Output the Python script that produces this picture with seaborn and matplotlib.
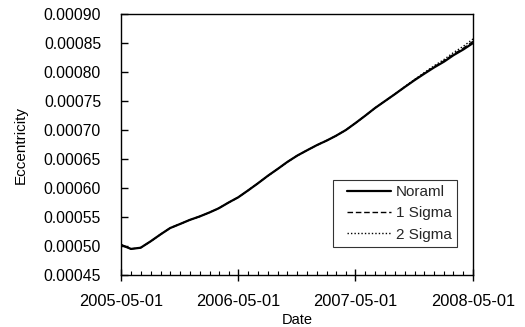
import matplotlib
matplotlib.use("Agg")
import matplotlib.pyplot as plt
import matplotlib.dates as mdates
from matplotlib.legend_handler import HandlerLine2D
import seaborn as sns
import pandas as pd

# Monthly orbit eccentricity, 2005-05 .. 2008-05
months = pd.date_range("2005-05-01", "2008-05-01", freq="MS")
normal = [0.000502, 0.000495, 0.000497, 0.000508, 0.000520, 0.000531, 0.000538,
          0.000545, 0.000551, 0.000558, 0.000565, 0.000575, 0.000584, 0.000596,
          0.000608, 0.000621, 0.000633, 0.000645, 0.000656, 0.000665, 0.000674,
          0.000682, 0.000690, 0.000700, 0.000712, 0.000725, 0.000738, 0.000750,
          0.000762, 0.000774, 0.000786, 0.000797, 0.000808, 0.000818, 0.000829,
          0.000839, 0.000850]
sigma1 = [0.000502, 0.000495, 0.000497, 0.000508, 0.000520, 0.000531, 0.000538,
          0.000545, 0.000551, 0.000558, 0.000565, 0.000575, 0.000584, 0.000596,
          0.000608, 0.000621, 0.000633, 0.000645, 0.000656, 0.000665, 0.000674,
          0.000682, 0.000690, 0.000700, 0.000712, 0.000725, 0.000738, 0.000750,
          0.000762, 0.000774, 0.0007865, 0.0007978, 0.0008092, 0.0008196, 0.0008307,
          0.0008412, 0.000853]
sigma2 = [0.000502, 0.000495, 0.000497, 0.000508, 0.000520, 0.000531, 0.000538,
          0.000545, 0.000551, 0.000558, 0.000565, 0.000575, 0.000584, 0.000596,
          0.000608, 0.000621, 0.000633, 0.000645, 0.000656, 0.000665, 0.000674,
          0.000682, 0.000690, 0.000700, 0.000712, 0.000725, 0.000738, 0.000750,
          0.000762, 0.0007745, 0.0007872, 0.0007990, 0.0008108, 0.0008218, 0.0008335,
          0.0008445, 0.000857]
labels = ["Noraml", "1 Sigma", "2 Sigma"]
y_ticks = [0.00045, 0.00050, 0.00055, 0.00060, 0.00065, 0.00070, 0.00075, 0.00080, 0.00085, 0.00090]
x_ticks = ["2005-05-01", "2006-05-01", "2007-05-01", "2008-05-01"]

sns.set_theme(style="ticks")
plt.rcParams["font.family"] = ["Liberation Sans", "DejaVu Sans"]

fig = plt.figure(figsize=(5.25, 3.27), dpi=100)
ax = fig.add_axes([0.2305, 0.159, 0.6705, 0.798])

df = pd.DataFrame({"Date": months, "normal": normal, "sigma1": sigma1, "sigma2": sigma2})
sns.lineplot(data=df, x="Date", y="normal", ax=ax, color="black", lw=1.6, label=labels[0])
sns.lineplot(data=df, x="Date", y="sigma1", ax=ax, color="black", lw=1.0,
             linestyle=(0, (4, 2)), label=labels[1])
sns.lineplot(data=df, x="Date", y="sigma2", ax=ax, color="black", lw=1.0,
             linestyle=(0, (1, 1.5)), label=labels[2])

xt = pd.to_datetime(x_ticks)
ax.set_xlim(xt[0], xt[-1])
ax.set_ylim(y_ticks[0], y_ticks[-1])
ax.set_xticks(xt)
ax.set_xticklabels(x_ticks)
ax.xaxis.set_minor_locator(mdates.MonthLocator())
ax.set_yticks(y_ticks)
ax.set_yticklabels([f"{v:.5f}" for v in y_ticks])

ax.tick_params(axis="y", which="major", direction="in", length=5, width=1,
               color="black", labelsize=11.3, labelcolor="black", pad=14.4)
ax.tick_params(axis="x", which="major", direction="inout", length=8, width=1,
               color="black", labelsize=11.8, labelcolor="black", pad=9.4)
ax.tick_params(axis="x", which="minor", direction="in", length=3, width=0.8, color="black")

for s in ax.spines.values():
    s.set_color("black")
    s.set_linewidth(1.0)

ax.set_xlabel("Date", fontsize=10.5, color="black", labelpad=3)
ax.set_ylabel("Eccentricity", fontsize=11, color="black", labelpad=11)

handler = HandlerLine2D(xpad=0.6)
leg = ax.legend(loc="lower right", bbox_to_anchor=(0.955, 0.107), borderaxespad=0,
                fontsize=11, frameon=True, fancybox=False, handlelength=3.5,
                handletextpad=0.3, labelspacing=0.48, borderpad=0.35,
                handler_map={l: handler for l in ax.get_lines()})
leg.get_frame().set_edgecolor("black")
leg.get_frame().set_linewidth(0.8)

fig.savefig("out.png", dpi=100)
